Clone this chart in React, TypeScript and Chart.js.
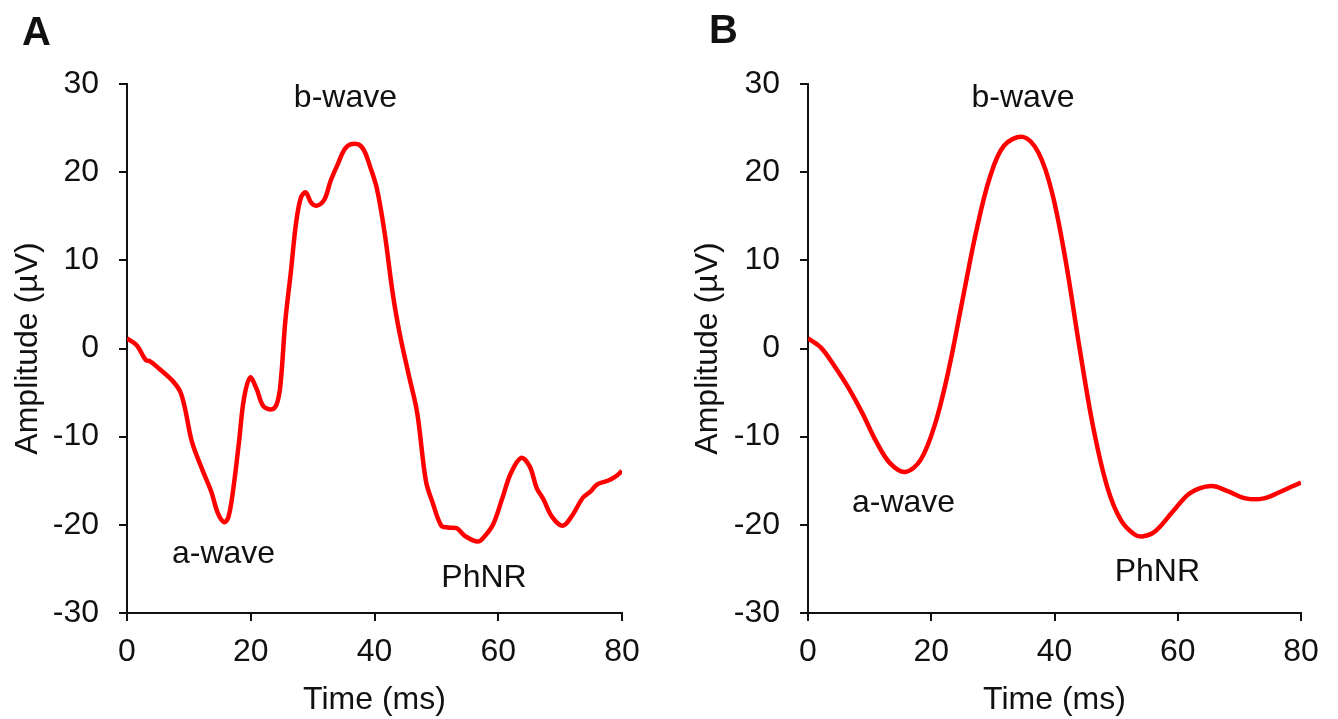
import React, { useEffect, useRef } from "react";
import { Chart, registerables } from "chart.js";

Chart.register(...registerables);

// Panel A (measured ERG trace)
const timeA = [0, 1.6, 3, 3.8, 5.2, 7.4, 8.6, 9.4, 10.5, 12.2, 13.6, 14.7, 15.7, 16.4, 17.2, 18.1, 18.9, 19.9, 20.9, 22.0, 23.4, 24.2, 24.8, 25.6, 26.5, 27.3, 28.1, 28.9, 29.8, 30.7, 31.9, 32.9, 34.0, 35.4, 37.1, 38.2, 39.3, 40.4, 41.6, 43.0, 44.1, 45.5, 46.9, 48.3, 49.4, 50.8, 51.9, 53.3, 54.7, 56.7, 57.8, 59.2, 60.6, 62.0, 63.7, 65.1, 66.2, 67.3, 68.7, 70.4, 71.8, 73.7, 74.8, 76.0, 77.7, 79.0, 80.0];
const ampA = [1.15, 0.34, -1.27, -1.48, -2.29, -3.7, -4.9, -6.9, -10.6, -13.8, -16.2, -18.7, -19.7, -19.1, -15.8, -10.6, -5.7, -3.3, -4.5, -6.5, -6.9, -6.3, -4.1, 3.2, 8.8, 14.1, 17.1, 17.7, 16.5, 16.2, 16.9, 19.0, 20.8, 22.8, 23.2, 22.6, 20.6, 18.1, 13.3, 6.0, 1.6, -2.9, -7.3, -15.0, -17.5, -20.1, -20.3, -20.4, -21.3, -21.9, -21.3, -19.9, -17.1, -14.2, -12.4, -13.4, -15.8, -17.1, -19.1, -20.1, -19.1, -16.9, -16.3, -15.4, -15.0, -14.5, -13.9];

// Panel B (model trace)
const timeB = [0, 2.1, 4.4, 6.6, 8.8, 11.1, 13.3, 15.8, 18.3, 20.6, 22.8, 25.1, 27.3, 29.5, 31.8, 34.9, 37.4, 39.6, 41.8, 44.1, 46.3, 48.6, 50.8, 53.0, 54.4, 56.4, 59.2, 62.0, 65.4, 68.2, 71.0, 74.0, 77.1, 80.0];
const ampB = [1.15, 0.1, -2.1, -4.5, -7.3, -10.6, -13.0, -14.0, -12.6, -8.6, -2.5, 5.6, 13.3, 19.4, 23.0, 24.0, 22.2, 17.7, 10.0, -0.1, -9.0, -15.8, -19.5, -21.1, -21.3, -20.7, -18.5, -16.4, -15.6, -16.2, -17.0, -17.0, -16.1, -15.2];

// Annotations (text, time, amplitude at text baseline)
const labelText = ["b-wave", "a-wave", "PhNR"];
const labelTA = [35.3, 15.6, 57.7];
const labelVA = [27.4, -24.3, -27.1];
const labelTB = [34.9, 15.5, 56.7];
const labelVB = [27.4, -18.5, -26.4];

const xTicks = [0, 20, 40, 60, 80];
const yTicks = [-30, -20, -10, 0, 10, 20, 30];
const panelLetters = ["A", "B"];

const FONT = "'Liberation Sans', Arial, sans-serif";
const FS = 32;

type PanelProps = {
  times: number[];
  amps: number[];
  lt: number[];
  lv: number[];
  letter: string;
  axisLeft: number;
  padRight: number;
  yTitlePad: number;
  letterX: number;
  letterY: number;
};

function Panel(p: PanelProps) {
  const ref = useRef<HTMLCanvasElement | null>(null);
  useEffect(() => {
    if (!ref.current) return;
    const pts = p.times.map((t, i) => ({ x: t, y: p.amps[i] }));
    const annot = {
      id: "annot",
      afterDatasetsDraw(chart: any) {
        const ctx = chart.ctx;
        const xs = chart.scales.x;
        const ys = chart.scales.y;
        ctx.save();
        ctx.fillStyle = "#111";
        ctx.font = `${FS}px ${FONT}`;
        ctx.textAlign = "center";
        ctx.textBaseline = "alphabetic";
        labelText.forEach((txt, i) => {
          ctx.fillText(txt, xs.getPixelForValue(p.lt[i]), ys.getPixelForValue(p.lv[i]));
        });
        ctx.font = `bold 40px ${FONT}`;
        ctx.textAlign = "left";
        ctx.fillText(p.letter, p.letterX, p.letterY);
        ctx.restore();
      },
    };
    const chart = new Chart(ref.current, {
      type: "line",
      data: {
        datasets: [
          {
            data: pts,
            borderColor: "#ff0000",
            borderWidth: 4.5,
            pointRadius: 0,
            tension: 0.35,
            fill: false,
          },
        ],
      },
      options: {
        animation: false,
        responsive: false,
        maintainAspectRatio: false,
        layout: { padding: { left: 0, right: p.padRight, top: 84, bottom: 0 } },
        plugins: { legend: { display: false }, tooltip: { enabled: false } },
        scales: {
          x: {
            type: "linear",
            min: 0,
            max: 80,
            afterBuildTicks: (s: any) => {
              s.ticks = xTicks.map((v) => ({ value: v }));
            },
            afterFit: (s: any) => {
              s.height = 106;
            },
            ticks: { color: "#111", font: { family: FONT, size: FS }, padding: 12, maxRotation: 0 },
            grid: { display: true, drawOnChartArea: false, drawTicks: true, tickLength: 8, color: "#111", lineWidth: 2 },
            border: { display: true, color: "#111", width: 2 },
            title: { display: true, text: "Time (ms)", color: "#111", font: { family: FONT, size: FS }, padding: { top: 0, bottom: 0 } },
          },
          y: {
            type: "linear",
            min: -30,
            max: 30,
            afterBuildTicks: (s: any) => {
              s.ticks = yTicks.map((v) => ({ value: v }));
            },
            afterFit: (s: any) => {
              s.width = p.axisLeft;
            },
            ticks: { color: "#111", font: { family: FONT, size: FS }, padding: 20 },
            grid: { display: true, drawOnChartArea: false, drawTicks: true, tickLength: 8, color: "#111", lineWidth: 2 },
            border: { display: true, color: "#111", width: 2 },
            title: { display: true, text: "Amplitude (µV)", color: "#111", font: { family: FONT, size: FS }, padding: { top: p.yTitlePad, bottom: 0 } },
          },
        },
      },
      plugins: [annot],
    } as any);
    return () => chart.destroy();
  }, []);
  return <canvas ref={ref} width={669} height={719} style={{ display: "block", width: 669, height: 719 }} />;
}

export default function App() {
  return (
    <div style={{ position: "fixed", left: 0, top: 0, width: 1338, height: 719, background: "#fff", display: "flex" }}>
      <Panel times={timeA} amps={ampA} lt={labelTA} lv={labelVA} letter={panelLetters[0]} axisLeft={127} padRight={47} yTitlePad={9} letterX={22} letterY={45} />
      <Panel times={timeB} amps={ampB} lt={labelTB} lv={labelVB} letter={panelLetters[1]} axisLeft={139} padRight={37} yTitlePad={20} letterX={40} letterY={43} />
    </div>
  );
}
